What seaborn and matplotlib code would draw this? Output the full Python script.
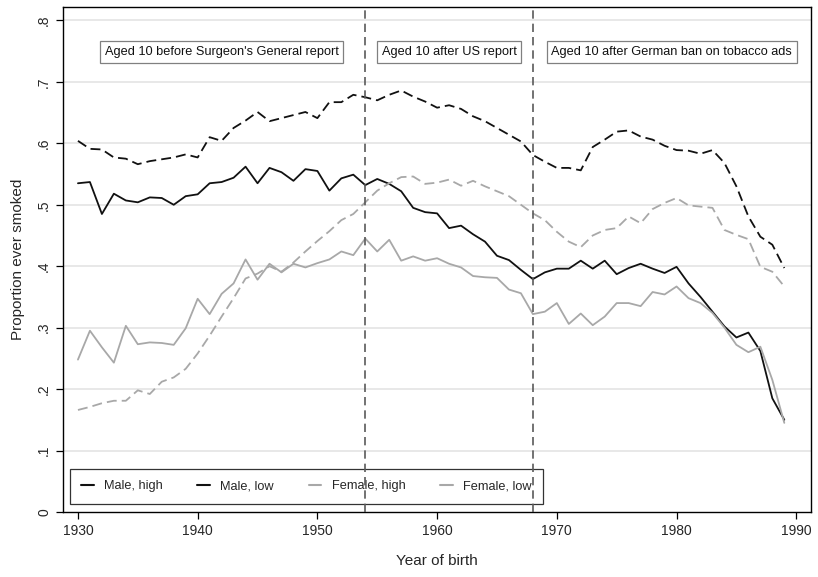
import matplotlib
matplotlib.use("Agg")
import matplotlib.pyplot as plt
import seaborn as sns
import numpy as np
import pandas as pd

# dati
years = list(range(1930, 1990))

male_high = [.604, .591, .590, .577, .575, .566, .571, .574, .577, .582,
             .577, .610, .604, .625, .637, .651, .636, .641, .646, .651,
             .641, .667, .667, .679, .675, .670, .679, .686, .676, .668,
             .658, .662, .656, .644, .636, .625, .614, .603, .581, .570,
             .560, .560, .556, .594, .606, .619, .621, .611, .606, .596,
             .589, .588, .583, .589, .568, .530, .481, .448, .435, .397]

male_low = [.535, .537, .485, .518, .507, .504, .512, .511, .500, .514,
            .517, .535, .537, .544, .562, .535, .560, .553, .539, .558,
            .555, .523, .543, .549, .532, .542, .534, .522, .495, .488,
            .486, .462, .466, .452, .440, .417, .410, .394, .379, .390,
            .396, .396, .409, .396, .409, .387, .397, .404, .396, .389,
            .399, .372, .350, .326, .302, .284, .292, .262, .185, .150]

female_high = [.166, .171, .177, .181, .181, .198, .192, .212, .219, .233,
               .258, .287, .318, .348, .380, .388, .400, .391, .406, .424,
               .441, .457, .475, .485, .504, .523, .535, .545, .546, .534,
               .536, .541, .531, .539, .530, .522, .514, .500, .486, .475,
               .456, .440, .431, .450, .459, .462, .481, .470, .493, .503,
               .511, .499, .497, .495, .459, .451, .444, .399, .391, .367]

female_low = [.248, .295, .268, .243, .303, .273, .276, .275, .272, .299,
              .347, .322, .355, .372, .411, .378, .404, .390, .404, .398,
              .405, .411, .424, .418, .445, .424, .443, .409, .416, .409,
              .413, .404, .398, .384, .382, .381, .362, .356, .322, .326,
              .340, .306, .323, .304, .318, .340, .340, .335, .358, .354,
              .367, .348, .340, .324, .300, .272, .260, .269, .215, .145]

series_names = ["Male, high", "Male, low", "Female, high", "Female, low"]
cutoffs = [1954, 1968]
period_labels = ["Aged 10 before Surgeon's General report",
                 "Aged 10 after US report",
                 "Aged 10 after German ban on tobacco ads"]
period_x = [1942, 1961, 1979.6]

yticks = [0, .1, .2, .3, .4, .5, .6, .7, .8]
ytick_labels = ["0", ".1", ".2", ".3", ".4", ".5", ".6", ".7", ".8"]
xticks = [1930, 1940, 1950, 1960, 1970, 1980, 1990]

df = pd.DataFrame({
    "year": years * 4,
    "value": male_high + male_low + female_high + female_low,
    "group": sum([[n] * len(years) for n in series_names], []),
})

sns.set_theme(style="white")
plt.rcParams['font.family'] = ['Liberation Sans', 'DejaVu Sans']

fig = plt.figure(figsize=(8.18, 5.77), dpi=100)
ax = fig.add_axes([0.077, 0.1127, 0.914, 0.8753])

colori = {"Male, high": "#111111", "Male, low": "#111111",
          "Female, high": "#a8a8a8", "Female, low": "#a8a8a8"}
tratti = {"Male, high": (5.5, 2.8), "Male, low": "",
          "Female, high": (5.5, 2.8), "Female, low": ""}

sns.lineplot(data=df, x="year", y="value", hue="group", style="group",
             palette=colori, dashes=tratti, linewidth=1.3, ax=ax,
             hue_order=series_names, style_order=series_names)

for y in yticks[1:]:
    ax.axhline(y, color="#e2e2e2", lw=1.1, zorder=0)

# linee verticali sopra la legenda, come nell'originale
for c in cutoffs:
    ax.axvline(c, color="#5a5a5a", lw=1.2, dashes=(5, 3), zorder=6)

for lab, xp in zip(period_labels, period_x):
    ax.text(xp, 0.749, lab, ha="center", va="center", fontsize=9.2,
            color="#111111", zorder=7,
            bbox=dict(boxstyle="square,pad=0.38", facecolor="white",
                      edgecolor="#808080", lw=0.9))

ax.set_xlim(1928.75, 1991.2)
ax.set_ylim(0, 0.822)
ax.set_xticks(xticks)
ax.set_yticks(yticks)
ax.set_yticklabels(ytick_labels, rotation=90, va="center")
ax.tick_params(axis="both", direction="out", length=5, width=0.9,
               color="black", labelsize=10, left=True, bottom=True)
for s in ax.spines.values():
    s.set_color("black")
    s.set_linewidth(1.0)

ax.set_xlabel("Year of birth", fontsize=11, labelpad=12)
ax.set_ylabel("Proportion ever smoked", fontsize=11, labelpad=9)

leg = ax.legend(ncol=4, loc="lower left", bbox_to_anchor=(0.009, 0.016),
                fontsize=9.2, handlelength=1.0, handletextpad=0.8,
                columnspacing=2.7, frameon=True, fancybox=False,
                borderpad=0.9, borderaxespad=0)
leg.set_zorder(5)
leg.get_frame().set_edgecolor("black")
leg.get_frame().set_linewidth(0.9)
for h in leg.get_lines():
    h.set_linestyle("-")
    h.set_linewidth(1.5)

fig.savefig("out.png", dpi=100)
